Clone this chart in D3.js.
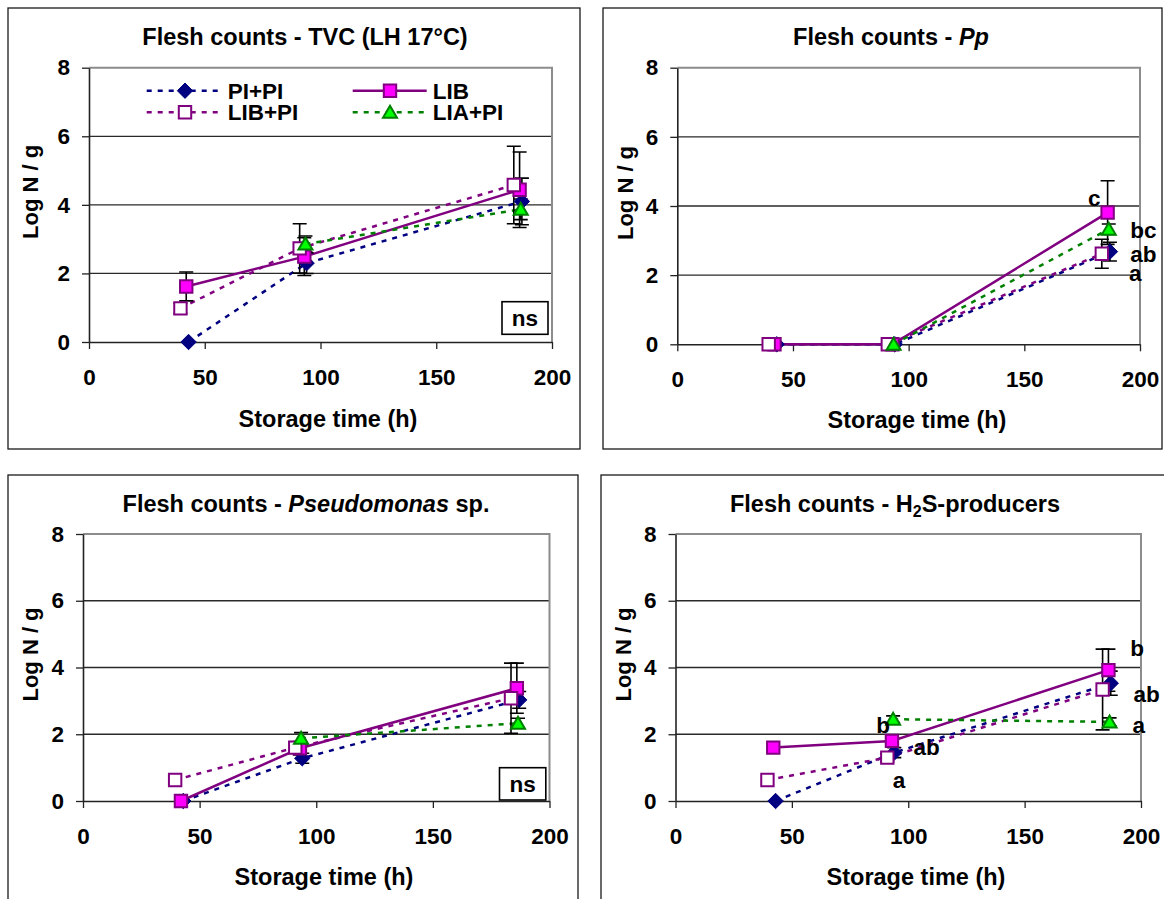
<!DOCTYPE html>
<html>
<head>
<meta charset="utf-8">
<script src="https://cdn.jsdelivr.net/npm/d3@7"></script>
<style>
  body { margin: 0; background: #fff; }
  svg text { font-family: "Liberation Sans", Arial, sans-serif; font-weight: bold; fill: #000; }
</style>
</head>
<body>
<svg id="fig" width="1164" height="899"></svg>
<script>
// ---- treatments and sampling times (h) ----
const seriesNames = ["PI+PI", "LIB", "LIB+PI", "LIA+PI"];
const timesPIPI  = [43, 94, 187];
const timesLIB   = [42, 93, 186];
const timesLIBPI = [39.5, 91, 183.5];
const timesLIAPI = [93.5, 186.5];

const xTicks = [0, 50, 100, 150, 200];
const yTicks = [0, 2, 4, 6, 8];

// ---- TVC (log N / g) and standard deviations ----
const tvcPIPI  = [0, 2.30, 4.10],    tvcPIPIErr  = [0, 0.30, 0.68];
const tvcLIB   = [1.62, 2.49, 4.44], tvcLIBErr   = [0.42, 0.55, 1.10];
const tvcLIBPI = [0.98, 2.73, 4.58], tvcLIBPIErr = [0.15, 0.72, 1.13];
const tvcLIAPI = [2.86, 3.87],       tvcLIAPIErr = [0.23, 0.30];

// ---- Photobacterium phosphoreum ----
const ppPIPI  = [0, 0, 2.68], ppPIPIErr  = [0, 0, 0.27];
const ppLIB   = [0, 0, 3.81], ppLIBErr   = [0, 0, 0.92];
const ppLIBPI = [0, 0, 2.62], ppLIBPIErr = [0, 0, 0.42];
const ppLIAPI = [0, 3.33],    ppLIAPIErr = [0, 0.15];

// ---- Pseudomonas sp. ----
const psPIPI  = [0, 1.28, 3.03],    psPIPIErr  = [0, 0.15, 0.25];
const psLIB   = [0, 1.58, 3.38],    psLIBErr   = [0, 0.20, 0.75];
const psLIBPI = [0.63, 1.60, 3.08], psLIBPIErr = [0, 0.15, 1.05];
const psLIAPI = [1.88, 2.33],       psLIAPIErr = [0.17, 0.15];

// ---- H2S-producers ----
const hsPIPI  = [0, 1.45, 3.53],    hsPIPIErr  = [0, 0.15, 0.36];
const hsLIB   = [1.60, 1.80, 3.92], hsLIBErr   = [0, 0.10, 0.63];
const hsLIBPI = [0.63, 1.30, 3.34], hsLIBPIErr = [0, 0.12, 1.21];
const hsLIAPI = [2.45, 2.37],       hsLIAPIErr = [0.10, 0.12];

// ---- significance letters, anchored in data units (h, log N / g) ----
const ppLetters      = ["c", "bc", "ab", "a"];
const ppLetterTimes  = [180.2, 201.5, 201.5, 198];
const ppLetterValues = [4.01, 3.08, 2.39, 1.83];

const hsLetters      = ["b", "ab", "a", "b", "ab", "a"];
const hsLetterTimes  = [198.3, 202.4, 199, 89.2, 107.9, 96];
const hsLetterValues = [4.34, 2.98, 2.04, 2.04, 1.38, 0.40];

// ---- series styling ----
const styles = [
  { stroke: "#000080", dash: "5,6", marker: "diamond", fill: "#000080", mstroke: "#000080" },
  { stroke: "#800080", dash: null,  marker: "square",  fill: "#FF00FF", mstroke: "#800080" },
  { stroke: "#800080", dash: "5,6", marker: "square",  fill: "#FFFFFF", mstroke: "#800080" },
  { stroke: "#008000", dash: "5,6", marker: "triangle", fill: "#00FF00", mstroke: "#008000" }
];
const allTimes = [timesPIPI, timesLIB, timesLIBPI, timesLIAPI];

function makeSeries(vals, errs) {
  return vals.map((v, i) => allTimes[i].map((t, j) => ({ t, v: v[j], e: errs[i][j] })));
}

const panels = [
  { box: [8, 8, 580, 449], plot: [89, 67.7, 552, 342], title: [["Flesh counts - TVC (LH 17°C)", ""]], titleX: 305, titleY: 45,
    ylabX: 30, xlabX: 328, xlabY: 427,
    series: makeSeries([tvcPIPI, tvcLIB, tvcLIBPI, tvcLIAPI], [tvcPIPIErr, tvcLIBErr, tvcLIBPIErr, tvcLIAPIErr]),
    ns: [502, 301.7, 548, 334.3], legend: true },
  { box: [603, 8, 1162, 449], plot: [677.3, 67.7, 1140, 344.3], title: [["Flesh counts - ", ""], ["Pp", "italic"]], titleX: 891, titleY: 45,
    ylabX: 625, xlabX: 917, xlabY: 428,
    series: makeSeries([ppPIPI, ppLIB, ppLIBPI, ppLIAPI], [ppPIPIErr, ppLIBErr, ppLIBPIErr, ppLIAPIErr]),
    letters: { text: ppLetters, t: ppLetterTimes, v: ppLetterValues } },
  { box: [8, 475, 578, 905], plot: [83, 534, 549.5, 801], title: [["Flesh counts - ", ""], ["Pseudomonas", "italic"], [" sp.", ""]], titleX: 306, titleY: 512,
    ylabX: 30, xlabX: 324, xlabY: 885,
    series: makeSeries([psPIPI, psLIB, psLIBPI, psLIAPI], [psPIPIErr, psLIBErr, psLIBPIErr, psLIAPIErr]),
    ns: [499.5, 767.7, 545.8, 800] },
  { box: [601, 475, 1170, 905], plot: [675.5, 534, 1141, 801], title: [["Flesh counts - H", ""], ["2", "sub"], ["S-producers", ""]], titleX: 895, titleY: 512,
    ylabX: 623, xlabX: 916, xlabY: 885,
    series: makeSeries([hsPIPI, hsLIB, hsLIBPI, hsLIAPI], [hsPIPIErr, hsLIBErr, hsLIBPIErr, hsLIAPIErr]),
    letters: { text: hsLetters, t: hsLetterTimes, v: hsLetterValues } }
];

const svg = d3.select("#fig");
const FS = 22.5;      // tick labels, legend, letters
const FS_TITLE = 23.5; // chart and x-axis titles
const FS_YLAB = 22;

function markerPath(kind) {
  if (kind === "diamond") return "M0,-7.7L7.7,0L0,7.7L-7.7,0Z";
  if (kind === "square") return "M-6.2,-6.2H6.2V6.2H-6.2Z";
  return "M0,-6.5L7,5.5L-7,5.5Z";
}

function drawMarker(g, st, x, y) {
  g.append("path")
    .attr("d", markerPath(st.marker))
    .attr("transform", `translate(${x},${y})`)
    .attr("fill", st.fill)
    .attr("stroke", st.mstroke)
    .attr("stroke-width", st.marker === "diamond" ? 1 : 2)
    .attr("stroke-linejoin", "miter");
}

panels.forEach(p => {
  const g = svg.append("g");
  const [L, T, R, B] = p.plot;
  const x = d3.scaleLinear().domain([0, 200]).range([L, R]);
  const y = d3.scaleLinear().domain([0, 8]).range([B, T]);

  // panel frame
  g.append("rect")
    .attr("x", p.box[0]).attr("y", p.box[1])
    .attr("width", p.box[2] - p.box[0]).attr("height", p.box[3] - p.box[1])
    .attr("fill", "#fff").attr("stroke", "#1a1a1a").attr("stroke-width", 1.3);

  // gridlines
  g.append("g").selectAll("line").data(yTicks.filter(d => d > 0 && d < 8)).join("line")
    .attr("x1", L).attr("x2", R).attr("y1", d => y(d)).attr("y2", d => y(d))
    .attr("stroke", "#2a2a2a").attr("stroke-width", 1.3);

  // plot-area border (top and right)
  g.append("path")
    .attr("d", `M${L},${y(8)}H${R}V${y(0)}`)
    .attr("fill", "none").attr("stroke", "#8c8c8c").attr("stroke-width", 2);

  // axes
  const ax = g.append("g").attr("transform", `translate(0,${B})`)
    .call(d3.axisBottom(x).tickValues(xTicks).tickFormat(d3.format("d")).tickSize(7).tickSizeOuter(0).tickPadding(20));
  const ay = g.append("g").attr("transform", `translate(${L},0)`)
    .call(d3.axisLeft(y).tickValues(yTicks).tickFormat(d3.format("d")).tickSize(7).tickSizeOuter(0).tickPadding(12));
  [ax, ay].forEach(a => {
    a.select(".domain").attr("stroke", "#222").attr("stroke-width", 1.6);
    a.selectAll(".tick line").attr("stroke", "#222").attr("stroke-width", 1.3);
    a.selectAll(".tick text").attr("font-size", FS).attr("fill", "#000")
      .style("font-family", '"Liberation Sans", Arial, sans-serif').style("font-weight", "bold");
  });

  // title
  const tt = g.append("text").attr("x", p.titleX).attr("y", p.titleY)
    .attr("text-anchor", "middle").attr("font-size", FS_TITLE);
  p.title.forEach(([s, kind], k) => {
    const sp = tt.append("tspan").text(s);
    if (kind === "italic") sp.attr("font-style", "italic");
    if (kind === "sub") sp.attr("font-size", 16).attr("dy", 5);
    if (kind === "" && k > 0 && p.title[k - 1][1] === "sub") sp.attr("dy", -5);
  });

  // axis titles
  g.append("text").attr("transform", `translate(${p.ylabX},${(T + B) / 2 - 13}) rotate(-90)`)
    .attr("text-anchor", "middle").attr("dominant-baseline", "central")
    .attr("font-size", FS_YLAB).text("Log N / g");
  g.append("text").attr("x", p.xlabX).attr("y", p.xlabY)
    .attr("text-anchor", "middle").attr("font-size", FS_TITLE).text("Storage time (h)");

  // series lines
  const line = d3.line().x(d => x(d.t)).y(d => y(d.v));
  p.series.forEach((s, i) => {
    const st = styles[i];
    g.append("path").datum(s).attr("d", line)
      .attr("fill", "none").attr("stroke", st.stroke).attr("stroke-width", 2.5)
      .attr("stroke-dasharray", st.dash);
  });

  // error bars
  p.series.forEach(s => {
    s.filter(d => d.e > 0).forEach(d => {
      const cx = x(d.t), y1 = y(d.v + d.e), y0 = y(d.v - d.e);
      g.append("path")
        .attr("d", `M${cx},${y0}V${y1}M${cx - 7},${y1}H${cx + 7}M${cx - 7},${y0}H${cx + 7}`)
        .attr("fill", "none").attr("stroke", "#000").attr("stroke-width", 1.6);
    });
  });

  // markers
  p.series.forEach((s, i) => {
    s.forEach(d => drawMarker(g, styles[i], x(d.t), y(d.v)));
  });

  // significance letters
  if (p.letters) {
    p.letters.text.forEach((txt, k) => {
      g.append("text").attr("x", x(p.letters.t[k])).attr("y", y(p.letters.v[k]))
        .attr("text-anchor", "middle").attr("font-size", FS).text(txt);
    });
  }

  // "ns" box
  if (p.ns) {
    const [x0, y0, x1, y1] = p.ns;
    g.append("rect").attr("x", x0).attr("y", y0).attr("width", x1 - x0).attr("height", y1 - y0)
      .attr("fill", "#fff").attr("stroke", "#000").attr("stroke-width", 1.6);
    g.append("text").attr("x", (x0 + x1) / 2).attr("y", (y0 + y1) / 2 + 8)
      .attr("text-anchor", "middle").attr("font-size", FS).text("ns");
  }

  // legend
  if (p.legend) {
    const cols = [[146.7, 220, 185, 227.7], [352.7, 426.7, 390, 432.7]];
    const rows = [90.7, 112.3];
    const order = [[0, 0, 0], [1, 1, 0], [2, 0, 1], [3, 1, 1]];
    order.forEach(([si, c, r]) => {
      const st = styles[si];
      const [lx0, lx1, mx, tx] = cols[c];
      const ly = rows[r];
      g.append("line").attr("x1", lx0).attr("x2", lx1).attr("y1", ly).attr("y2", ly)
        .attr("stroke", st.stroke).attr("stroke-width", 2.5).attr("stroke-dasharray", st.dash);
      drawMarker(g, st, mx, ly);
      g.append("text").attr("x", tx).attr("y", ly + 8).attr("font-size", FS).text(seriesNames[si]);
    });
  }
});
</script>
</body>
</html>
